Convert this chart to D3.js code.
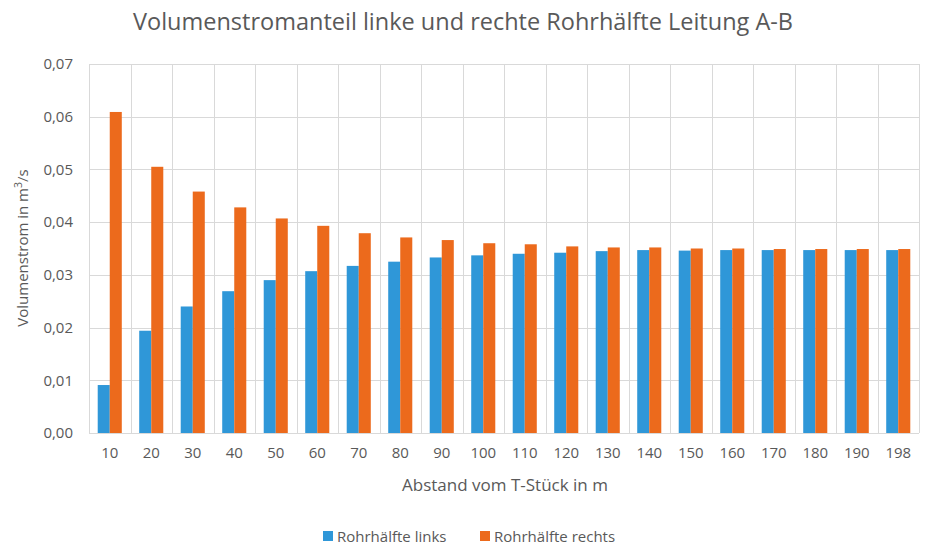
<!DOCTYPE html>
<html>
<head>
<meta charset="utf-8">
<script src="https://cdn.jsdelivr.net/npm/d3@7"></script>
<style>
  html, body { margin: 0; padding: 0; background: #fff; }
  svg { display: block; }
  text { font-family: "Open Sans", "DejaVu Sans", sans-serif; fill: #595959; }
</style>
</head>
<body>
<svg id="chart" width="928" height="545"></svg>
<script>
const categories = ["10","20","30","40","50","60","70","80","90","100","110","120","130","140","150","160","170","180","190","198"];
const links  = [0.0091,0.0194,0.0240,0.0269,0.0290,0.0307,0.0317,0.0325,0.0333,0.0337,0.0340,0.0342,0.0345,0.0347,0.0346,0.0347,0.0347,0.0347,0.0347,0.0347];
const rechts = [0.0609,0.0505,0.0458,0.0428,0.0407,0.0393,0.0379,0.0371,0.0366,0.0360,0.0358,0.0354,0.0352,0.0352,0.0350,0.0350,0.0349,0.0349,0.0349,0.0349];
const seriesNames = ["Rohrhälfte links","Rohrhälfte rechts"];
const colors = ["#2F97D8","#EC6A1C"];
const yTicks = [0,0.01,0.02,0.03,0.04,0.05,0.06,0.07];
const title = "Volumenstromanteil linke und rechte Rohrhälfte Leitung A-B";
const xTitle = "Abstand vom T-Stück in m";

const svg = d3.select("#chart");
const m = {left: 89, right: 919, top: 64, bottom: 433};

const x0 = d3.scaleBand().domain(categories).range([m.left, m.right]).paddingInner(0.42).paddingOuter(0.21);
const x1 = d3.scaleBand().domain([0,1]).range([0, x0.bandwidth()]);
const y = d3.scaleLinear().domain([0, 0.07]).range([m.bottom, m.top]);

const grid = svg.append("g");
grid.selectAll("line.h").data(yTicks).join("line")
  .attr("x1", m.left).attr("x2", m.right)
  .attr("y1", d => Math.round(y(d)) + 0.5).attr("y2", d => Math.round(y(d)) + 0.5)
  .attr("stroke", "#d9d9d9").attr("stroke-width", 1);
const step = x0.step();
const bounds = categories.map((c, i) => m.left + i * step).concat([m.right]);
grid.selectAll("line.v").data(bounds).join("line")
  .attr("x1", d => Math.round(d) + 0.5).attr("x2", d => Math.round(d) + 0.5)
  .attr("y1", m.top).attr("y2", m.bottom)
  .attr("stroke", "#d9d9d9").attr("stroke-width", 1);

const data = categories.map((c, i) => ({c, vals: [links[i], rechts[i]]}));
const groups = svg.append("g").selectAll("g").data(data).join("g")
  .attr("transform", d => `translate(${x0(d.c)},0)`);
groups.selectAll("rect").data(d => d.vals.map((v, k) => ({v, k}))).join("rect")
  .attr("x", d => x1(d.k))
  .attr("width", x1.bandwidth())
  .attr("y", d => y(d.v))
  .attr("height", d => y(0) - y(d.v))
  .attr("fill", d => colors[d.k]);

svg.append("line").attr("x1", m.left).attr("x2", m.right)
  .attr("y1", m.bottom + 0.5).attr("y2", m.bottom + 0.5)
  .attr("stroke", "#d9d9d9");

const fmt = d => d3.format(".2f")(d).replace(".", ",");
const yAxis = d3.axisLeft(y).tickValues(yTicks).tickFormat(fmt).tickSize(0).tickPadding(16);
const yg = svg.append("g").attr("transform", `translate(${m.left},0)`).call(yAxis);
yg.select(".domain").remove();
yg.selectAll("text").style("font-size", "15px").attr("fill", "#595959")
  .style("font-family", "'Open Sans', sans-serif");

const xAxis = d3.axisBottom(x0).tickSize(0).tickPadding(14);
const xg = svg.append("g").attr("transform", `translate(0,${m.bottom})`).call(xAxis);
xg.select(".domain").remove();
xg.selectAll("text").style("font-size", "15px").attr("fill", "#595959")
  .style("font-family", "'Open Sans', sans-serif");

svg.append("text").attr("x", 463).attr("y", 30).attr("text-anchor", "middle")
  .style("font-size", "23.5px").text(title);

svg.append("text").attr("x", 505).attr("y", 491).attr("text-anchor", "middle")
  .style("font-size", "17px").text(xTitle);
const yt = svg.append("text").attr("transform", "translate(28,248) rotate(-90)")
  .attr("text-anchor", "middle").style("font-size", "15px");
yt.append("tspan").text("Volumenstrom in m");
yt.append("tspan").attr("dy", -6).style("font-size", "10.5px").text("3");
yt.append("tspan").attr("dy", 6).text("/s");

const legendX = [323, 480];
const lg = svg.append("g").selectAll("g").data(seriesNames).join("g")
  .attr("transform", (d, i) => `translate(${legendX[i]},542)`);
lg.append("rect").attr("x", 0).attr("y", -11).attr("width", 10).attr("height", 10)
  .attr("fill", (d, i) => colors[i]);
lg.append("text").attr("x", 14).attr("y", 0).style("font-size", "15px").text(d => d);
</script>
</body>
</html>
